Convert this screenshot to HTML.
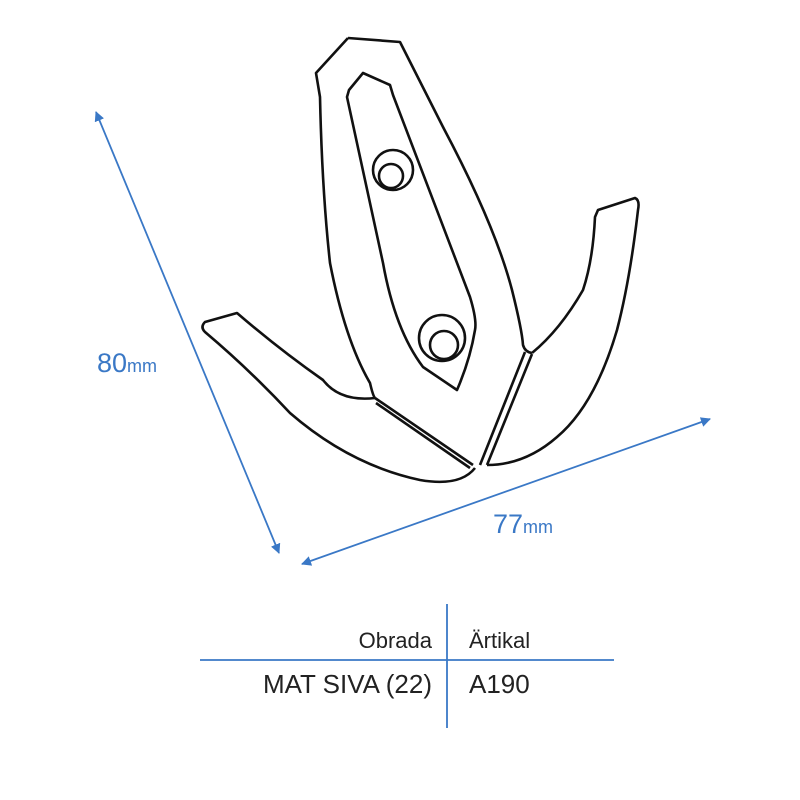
<!DOCTYPE html>
<html><head><style>body{margin:0;background:#fff}svg{display:block}</style></head><body>
<svg width="800" height="800" viewBox="0 0 800 800" xmlns="http://www.w3.org/2000/svg">
<defs><marker id="a" markerWidth="10" markerHeight="10" refX="9" refY="5" orient="auto-start-reverse" markerUnits="userSpaceOnUse"><path d="M0,0 L10,5 L0,10 z" fill="#3a78c6"/></marker></defs>
<g stroke="#3a78c6" stroke-width="1.8" fill="none">
<line x1="96" y1="112" x2="279" y2="553" marker-start="url(#a)" marker-end="url(#a)"/>
<line x1="302" y1="564" x2="710" y2="419" marker-start="url(#a)" marker-end="url(#a)"/>
<line x1="447" y1="604" x2="447" y2="728"/>
<line x1="200" y1="660" x2="614" y2="660"/>
</g>
<g stroke="#111" stroke-width="2.6" fill="none" stroke-linejoin="round">
<path d="M348,38 L400,42 L443,127 Q495,225 512,290 Q522,330 523,345 Q525,352 532,353"/>
<path d="M348,38 L316,73 L320,97 Q322,190 330,263 Q345,340 370,383 Q373,396 375,398"/>
<path d="M363,73 L390,85 L393,95 L470,297 Q477,320 475,330 Q470,360 457,390 L423,367 Q395,330 383,263 L347,97 L349,90 Z"/>
<circle cx="393" cy="170" r="20"/><circle cx="391" cy="176" r="12"/>
<circle cx="442" cy="338" r="23"/><circle cx="444" cy="345" r="14"/>
<path d="M375,398 Q340,402 323,380 Q280,350 237,313 L205,322 Q200,327 205,332 Q250,370 290,413 Q350,465 420,480 Q460,487 475,468"/>
<path d="M532,353 Q560,330 583,290 Q593,260 595,217 L598,210 L635,198 Q640,200 638,210 Q630,280 617,330 Q595,405 557,437 Q525,465 487,465"/>
<line x1="375" y1="398" x2="473" y2="465"/>
<line x1="376" y1="403" x2="470" y2="468"/>
<line x1="525" y1="352" x2="480" y2="465"/>
<line x1="532" y1="354" x2="487" y2="465"/>
</g>
<g font-family="'Liberation Sans',sans-serif">
<text x="97" y="372" fill="#3a78c6" font-size="27">80<tspan font-size="18">mm</tspan></text>
<text x="493" y="533" fill="#3a78c6" font-size="27">77<tspan font-size="18">mm</tspan></text>
<text x="432" y="648" fill="#222" font-size="22" text-anchor="end">Obrada</text>
<text x="469" y="648" fill="#222" font-size="22">Ärtikal</text>
<text x="432" y="693" fill="#222" font-size="26" text-anchor="end">MAT SIVA (22)</text>
<text x="469" y="693" fill="#222" font-size="26">A190</text>
</g>
</svg>
</body></html>
